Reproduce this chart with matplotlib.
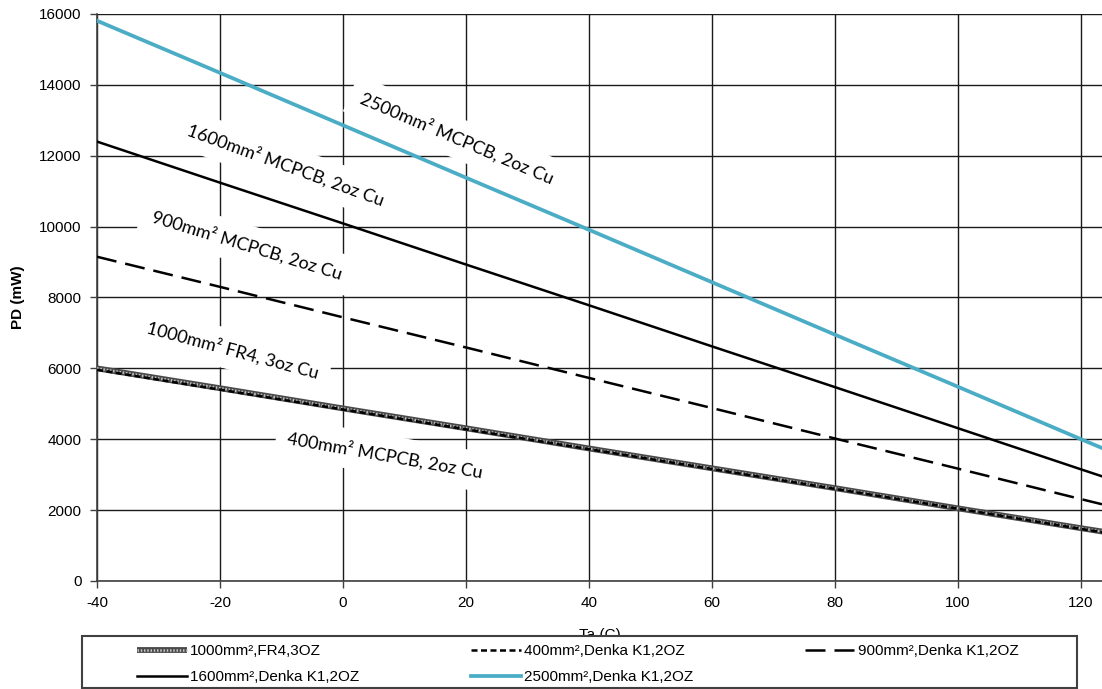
import matplotlib
matplotlib.use("Agg")
import matplotlib.pyplot as plt
from matplotlib.legend_handler import HandlerTuple

# Ambient temperature (C) and power dissipation (mW)
ta = [-40, -20, 0, 20, 40, 60, 80, 100, 120, 124]
pd_fr4_1000 = [6000, 5440, 4870, 4310, 3740, 3180, 2620, 2050, 1490, 1380]
pd_denka_400 = [5960, 5400, 4840, 4280, 3720, 3160, 2600, 2040, 1470, 1360]
pd_denka_900 = [9150, 8300, 7440, 6590, 5730, 4880, 4020, 3170, 2310, 2140]
pd_denka_1600 = [12400, 11240, 10090, 8930, 7780, 6620, 5470, 4310, 3150, 2920]
pd_denka_2500 = [15810, 14340, 12860, 11380, 9910, 8430, 6950, 5480, 4000, 3710]

xticks = [-40, -20, 0, 20, 40, 60, 80, 100, 120]
yticks = [0, 2000, 4000, 6000, 8000, 10000, 12000, 14000, 16000]

# labels written on the plot: text, x, y, angle
notes = [
    ("2500mm² MCPCB, 2oz Cu", 18.5, 12500, -23),
    ("1600mm² MCPCB, 2oz Cu", -9.4, 11740, -20),
    ("900mm² MCPCB, 2oz Cu", -15.6, 9480, -17),
    ("1000mm² FR4, 3oz Cu", -18.0, 6520, -15),
    ("400mm² MCPCB, 2oz Cu", 6.8, 3555, -10),
]

plt.rcParams['font.family'] = ['Liberation Sans', 'DejaVu Sans']
plt.rcParams['axes.unicode_minus'] = False

fig = plt.figure(figsize=(11.02, 6.89), dpi=100)
ax = fig.add_axes([97/1102, 1 - 581/689, 1 - 97/1102, (581 - 14)/689])

# hatched grey line (FR4): dark core with a light speckle on top
fr4_a, = ax.plot(ta, pd_fr4_1000, color='#4a4a4a', lw=4.2, zorder=3, solid_capstyle='butt')
fr4_b, = ax.plot(ta, pd_fr4_1000, color='#c4c4c4', lw=1.8, ls=(0, (0.6, 0.7)), zorder=3.1)
l400, = ax.plot(ta, pd_denka_400, color='black', lw=1.8, ls=(0, (2.4, 1.4)), zorder=3.2)
l900, = ax.plot(ta, pd_denka_900, color='black', lw=1.8, ls=(0, (8, 3.6)), zorder=3)
l1600, = ax.plot(ta, pd_denka_1600, color='black', lw=1.8, zorder=3)
l2500, = ax.plot(ta, pd_denka_2500, color='#4bacc6', lw=2.7, zorder=3)

for txt, x, y, ang in notes:
    ax.text(x, y, txt, rotation=ang, rotation_mode='anchor', ha='center', va='center',
            fontsize=13, family=['Lato', 'DejaVu Sans'], color='black', zorder=2,
            bbox=dict(facecolor='white', edgecolor='none', pad=8))

ax.set_xlim(-40, 123.4)
ax.set_ylim(0, 16000)
ax.set_xticks(xticks)
ax.set_yticks(yticks)
ax.set_axisbelow(True)
ax.grid(True, color='#1a1a1a', lw=1.0)
ax.tick_params(axis='both', labelsize=11, length=5, width=1, color='#404040', pad=6)
for s in ['top', 'right']:
    ax.spines[s].set_visible(False)
for s in ['left', 'bottom']:
    ax.spines[s].set_color('#404040')
    ax.spines[s].set_linewidth(1.2)

ax.set_ylabel("PD (mW)", fontsize=11, fontweight='bold', labelpad=10)
ax.set_xlabel("Ta (C)", fontsize=11, labelpad=13)

# legend box drawn separately so it can sit over the axis title
box = plt.Rectangle((82/1102, 1/689), 995/1102, 52/689, transform=fig.transFigure,
                    facecolor='white', edgecolor='#404040', lw=1.5, zorder=4)
fig.patches.append(box)

# column-major order so rows read: FR4, 400, 900 / 1600, 2500
leg = fig.legend([(fr4_a, fr4_b), l1600, l400, l2500, l900],
                 ["1000mm²,FR4,3OZ", "1600mm²,Denka K1,2OZ", "400mm²,Denka K1,2OZ",
                  "2500mm²,Denka K1,2OZ", "900mm²,Denka K1,2OZ"],
                 handler_map={tuple: HandlerTuple(ndivide=1)},
                 loc='upper left', bbox_to_anchor=(137/1102, 1 - 644/689),
                 ncol=3, fontsize=11, frameon=False,
                 handlelength=3.27, handletextpad=0.2, columnspacing=7.3,
                 borderaxespad=0, borderpad=0, labelspacing=0.81)
leg.set_zorder(5)

fig.savefig("out.png", dpi=100)
